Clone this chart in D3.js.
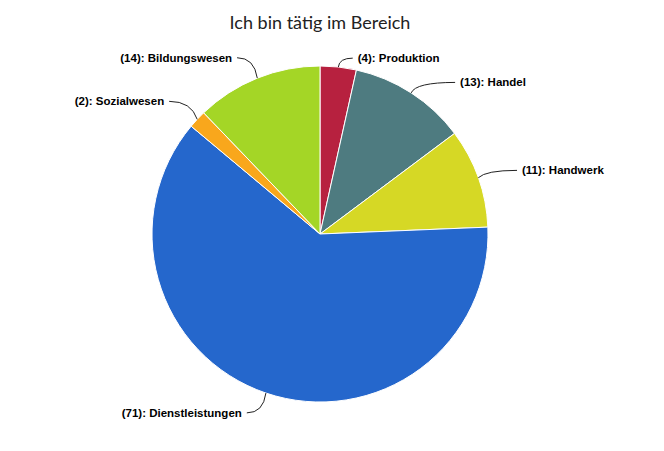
<!DOCTYPE html>
<html><head><meta charset="utf-8">
<script src="https://cdn.jsdelivr.net/npm/d3@7"></script>
<style>body{margin:0;background:#fff}svg{display:block}</style>
</head><body>
<svg id="c" width="664" height="451"></svg>
<script>
const categories = ["Produktion","Handel","Handwerk","Dienstleistungen","Sozialwesen","Bildungswesen"];
const values = [4,13,11,71,2,14];
const colors = ["#b7213f","#4e7b80","#d6d825","#2567cc","#f9a71c","#a4d626"];
const titleText = "Ich bin tätig im Bereich";
// label layout nudges (dx, dy) relative to computed radial position
const labelNudge = [[0,13],[20,8],[6,0],[0,-1],[0,-3],[0,0]];

const svg = d3.select("#c");
const W=664,H=451, cx=320, cy=234, r=168;
svg.append("text").attr("x",cx).attr("y",29).attr("text-anchor","middle")
  .style("font-family","Lato").style("font-size","18px").attr("fill","#222").text(titleText);

const data = categories.map((c,i)=>({name:c,value:values[i],color:colors[i],i}));
const pie = d3.pie().sort(null).value(d=>d.value);
const arcs = pie(data);
const arc = d3.arc().innerRadius(0).outerRadius(r);
const g = svg.append("g").attr("transform",`translate(${cx},${cy})`);
g.selectAll("path.s").data(arcs).join("path").attr("class","s")
  .attr("d",arc).attr("fill",d=>d.data.color).attr("stroke","#fff").attr("stroke-width",1);

const lg = g.append("g");
arcs.forEach(a=>{
  const m=(a.startAngle+a.endAngle)/2;
  const s=Math.sin(m), c=Math.cos(m);
  const side = s>=0?1:-1;
  const P=[r*s, -r*c];
  const d=22;
  const nd = labelNudge[a.data.i];
  const lx = (r+d)*s + side*12 + side*nd[0];
  const ly = -(r+d)*c + nd[1];
  const ctrl=[(r+8)*s, ly];
  lg.append("path").attr("d",`M${lx},${ly}Q${ctrl[0]},${ctrl[1]} ${P[0]},${P[1]}`)
    .attr("fill","none").attr("stroke","#222").attr("stroke-width",1);
  lg.append("text").attr("x",lx+side*5).attr("y",ly+4)
    .attr("text-anchor",side>0?"start":"end")
    .style("font-family","'Liberation Sans',Arial,sans-serif").style("font-size","11.5px").style("font-weight","bold")
    .attr("fill","#000").text(`(${a.data.value}): ${a.data.name}`);
});
</script>
</body></html>
